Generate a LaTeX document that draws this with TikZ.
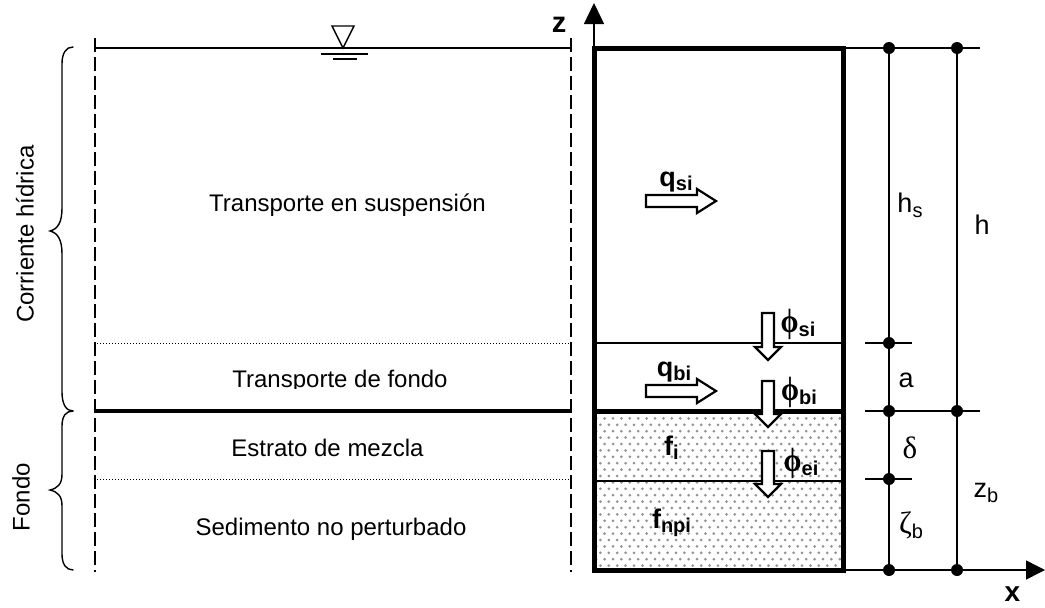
\documentclass[tikz,border=0pt]{standalone}
\usepackage{fontspec}
\usepackage{graphicx}
\setmainfont{Liberation Sans}
\newfontfamily\srf{Liberation Serif}
\usetikzlibrary{arrows.meta}
\tikzset{
  x=1pt,y=-1pt,
  lab/.style={font=\fontsize{24}{26}\selectfont,inner sep=0pt,anchor=base},
  dlab/.style={font=\fontsize{27}{28}\selectfont,inner sep=0pt,anchor=base},
  blab/.style={font=\fontsize{27}{28}\selectfont\bfseries,inner sep=0pt,anchor=base},
  dim/.style={line width=1.5pt,draw=black},
  bound/.style={line width=1.3pt,dash pattern=on 14pt off 5pt},
  dotline/.style={line width=1pt,dash pattern=on 1.2pt off 1.8pt},
  frame/.style={line width=5pt},
  mid/.style={line width=1.6pt},
  blk/.style={line width=2.2pt,fill=white,draw=black,line join=miter},
  dotn/.style={circle,fill=black,inner sep=0pt,minimum size=12pt},
  brc/.style={line width=1.4pt,line cap=round}
}
\newcommand{\sbs}[1]{\raisebox{-4pt}{\fontsize{20}{20}\selectfont #1}}
\newcommand{\sbn}[1]{\raisebox{-5pt}{\fontsize{20}{20}\selectfont #1}}
\newcommand{\bphi}{\scalebox{0.9}[1.05]{\srf\fontsize{32}{32}\selectfont\bfseries ϕ}}
\begin{document}
\begin{tikzpicture}
\useasboundingbox (0,0) rectangle (1045,608);
% stipple
\begin{scope}
\clip (595,411) rectangle (843,570);
\foreach \r in {0,...,26}{
  \pgfmathsetmacro{\xs}{592+mod(\r,2)*4.2}
  \foreach \c in {0,...,31}{
    \fill[black!42] ({\xs+\c*8.4},{412+\r*6.4}) circle (1.5pt);
  }
}
\end{scope}
% left panel
\coordinate (lt) at (95,38); \coordinate (lb) at (95,572);
\coordinate (rt) at (571,38); \coordinate (rb) at (571,572);
\draw[bound] (lt) -- (lb);
\draw[bound] (rt) -- (rb);
\coordinate (w1) at (95,48); \coordinate (w2) at (571,48);
\draw[line width=1.4pt] (w1) -- (w2);
\coordinate (d1a) at (97,343); \coordinate (d1b) at (570,343);
\draw[dotline] (d1a) -- (d1b);
\coordinate (t1) at (95,411); \coordinate (t2) at (571,411);
\draw[line width=3.6pt] (t1) -- (t2);
\coordinate (d2a) at (97,479); \coordinate (d2b) at (570,479);
\draw[dotline] (d2a) -- (d2b);
% water mark
\draw[line width=1.4pt,line join=miter] (332,26) -- (354,26) -- (343,48) -- cycle;
\draw[line width=1.2pt] (321,54) -- (368,54);
\draw[line width=1.2pt] (333,59) -- (357,59);
% braces
\draw[brc] (73,47) .. controls (66,47) and (62,53) .. (62,64) -- (62,208) .. controls (62,222) and (58,229) .. (50,231) .. controls (58,233) and (62,240) .. (62,254) -- (62,392) .. controls (62,404) and (66,411) .. (73,411);
\draw[brc] (73,411) .. controls (66,411) and (62,416) .. (62,426) -- (62,474) .. controls (62,484) and (58,488) .. (50,490) .. controls (58,492) and (62,496) .. (62,506) -- (62,554) .. controls (62,564) and (66,570) .. (73,570);
% frame and inner lines
\coordinate (b1) at (594.5,343); \coordinate (b2) at (843,343);
\draw[mid] (b1) -- (b2);
\coordinate (c1) at (594.5,481); \coordinate (c2) at (843,481);
\draw[mid] (c1) -- (c2);
\coordinate (e1) at (594.5,411); \coordinate (e2) at (843,411);
\draw[frame] (e1) -- (e2);
\draw[frame,line join=miter] (594.5,48) rectangle (843,570);
% axes
\coordinate (o) at (594,570);
\coordinate (ztip) at (594,3);
\coordinate (xtip) at (1045,570);
\draw[line width=1.4pt,-{Triangle[length=21pt,width=20pt]}] (594,48) -- (ztip);
\draw[line width=1.5pt,-{Triangle[length=19pt,width=19pt]}] (843,570) -- (xtip);
% dimension lines
\node[dotn] (a0) at (889,48) {};
\node[dotn] (a1) at (889,343) {};
\node[dotn] (a2) at (889,411) {};
\node[dotn] (a3) at (889,479) {};
\node[dotn] (a4) at (889,570) {};
\node[dotn] (h0) at (957,48) {};
\node[dotn] (h1) at (957,411) {};
\node[dotn] (h2) at (957,570) {};
\draw[dim] (a0) -- (a1) -- (a2) -- (a3) -- (a4);
\draw[dim] (h0) -- (h1) -- (h2);
\draw[dim] (843,48) -- (a0) -- (h0) -- (980,48);
\draw[dim] (865,343) -- (a1) -- (912,343);
\draw[dim] (865,411) -- (a2) -- (h1) -- (980,411);
\draw[dim] (865,479) -- (a3) -- (912,479);
% block arrows
\draw[blk] (646,195) -- (697,195) -- (697,189) -- (716,201) -- (697,213) -- (697,207) -- (646,207) -- cycle;
\draw[blk] (646,385) -- (697,385) -- (697,379) -- (716,391) -- (697,403) -- (697,397) -- (646,397) -- cycle;
\draw[blk] (762,313) -- (774,313) -- (774,347) -- (781,347) -- (768,360) -- (755,347) -- (762,347) -- cycle;
\draw[blk] (762,381) -- (774,381) -- (774,414) -- (781,414) -- (768,427) -- (755,414) -- (762,414) -- cycle;
\draw[blk] (762,451) -- (774,451) -- (774,484) -- (781,484) -- (768,497) -- (755,484) -- (762,484) -- cycle;
% text
\node[lab] (tsus) at (347.5,211) {Transporte en suspensión};
\begin{scope}
\clip (200,360) rectangle (480,388.5);
\node[lab] (tfon) at (340,387) {Transporte de fondo};
\end{scope}
\node[lab] (emez) at (327.5,456) {Estrato de mezcla};
\node[lab] (sed) at (331,535) {Sedimento no perturbado};
\node[lab,rotate=90,anchor=center] (cor) at (25,234) {Corriente hídrica};
\node[lab,rotate=90,anchor=center] (fon) at (21,497) {Fondo};
\node[blab,font=\fontsize{29}{29}\selectfont\bfseries] (zl) at (559,32) {z};
\node[blab,font=\fontsize{28}{28}\selectfont\bfseries] (xl) at (1012.5,601) {x};
\node[blab] (qs) at (676,186) {q\sbs{si}};
\node[blab] (qb) at (674,376) {q\sbs{bi}};
\node[blab] (fi) at (671.5,455) {f\sbs{i}};
\node[blab] (fn) at (671.5,528) {f\sbs{npi}};
\node[blab,anchor=center] (ps) at (798,324) {\bphi\sbs{si}};
\node[blab,anchor=center] (pb) at (799,392) {\bphi\sbs{bi}};
\node[blab,anchor=center] (pe) at (801,463) {\bphi\sbs{ei}};
\node[dlab] (hs) at (910,212) {h\sbn{s}};
\node[dlab] (hh) at (982,234) {h};
\node[dlab] (al) at (906,387) {a};
\node[dlab] (dl) at (910,458) {{\srf\fontsize{31}{31}\selectfont δ}};
\node[dlab] (zt) at (911,533) {{\srf\fontsize{31}{31}\selectfont ζ}\sbn{b}};
\node[dlab] (zb) at (986,497) {z\sbn{b}};
\end{tikzpicture}
\end{document}
